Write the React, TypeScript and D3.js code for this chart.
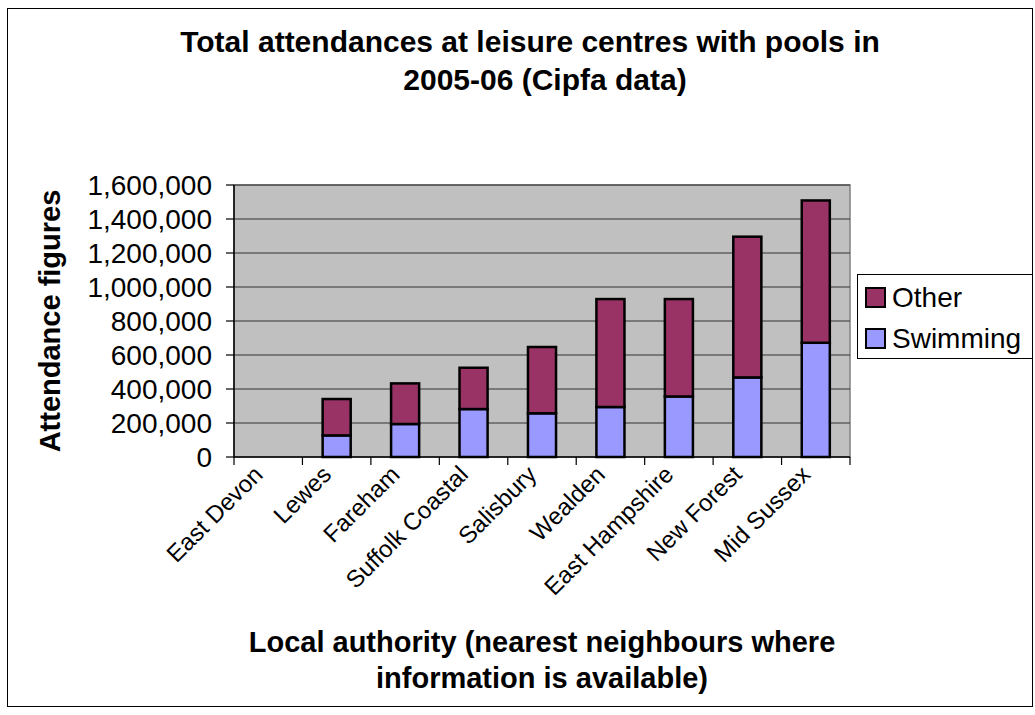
import React from "react";
import * as d3 from "d3";

const categories = ["East Devon", "Lewes", "Fareham", "Suffolk Coastal", "Salisbury", "Wealden", "East Hampshire", "New Forest", "Mid Sussex"];
const swimming = [0, 127000, 194000, 282000, 257000, 294000, 356000, 468000, 672000];
const other = [0, 214000, 239000, 243000, 390000, 635000, 573000, 828000, 837000];
const yTicks = [0, 200000, 400000, 600000, 800000, 1000000, 1200000, 1400000, 1600000];
const seriesNames = ["Other", "Swimming"];
const seriesColors = ["#993366", "#9999FF"];

const W = 1035, H = 715;
const plot = { left: 234, right: 850, top: 185, bottom: 457 };
const FONT = "'Liberation Sans', Arial, sans-serif";

export default function App() {
  const x = d3.scaleBand<string>().domain(categories).range([plot.left, plot.right]).paddingInner(0.59).paddingOuter(0.295);
  const xb = d3.scaleBand<string>().domain(categories).range([plot.left, plot.right]);
  const y = d3.scaleLinear().domain([0, 1600000]).range([plot.bottom, plot.top]);
  const fmt = d3.format(",");
  const rows = categories.map((c, i) => ({ c, swimming: swimming[i], other: other[i] }));
  const stack = d3.stack<any>().keys(["swimming", "other"])(rows);
  const colorFor: Record<string, string> = { swimming: seriesColors[1], other: seriesColors[0] };

  return (
    <svg width={W} height={H} style={{ position: "absolute", left: 0, top: 0, background: "#fff" }} fontFamily={FONT}>
      <rect x={7.5} y={8.5} width={1025} height={698} fill="#fff" stroke="#000" strokeWidth={1} />
      <text textAnchor="middle" fontWeight="bold" fontSize={30}>
        <tspan x={530} y={52}>Total attendances at leisure centres with pools in</tspan>
        <tspan x={545} y={90}>2005-06 (Cipfa data)</tspan>
      </text>
      <rect x={plot.left} y={plot.top} width={plot.right - plot.left} height={plot.bottom - plot.top} fill="#C0C0C0" stroke="#808080" strokeWidth={1.5} />
      {yTicks.slice(1).map((t) => (
        <line key={t} x1={plot.left} x2={plot.right} y1={y(t)} y2={y(t)} stroke="#333" strokeWidth={1.2} />
      ))}
      {stack.map((s) => (
        <g key={s.key} fill={colorFor[s.key]} stroke="#000" strokeWidth={2.5}>
          {s.map((d, i) => (d[1] - d[0] > 0 ? (
            <rect key={i} x={x(categories[i])} width={x.bandwidth()} y={y(d[1])} height={y(d[0]) - y(d[1])} />
          ) : null))}
        </g>
      ))}
      <line x1={plot.left} x2={plot.left} y1={plot.top} y2={plot.bottom} stroke="#000" strokeWidth={1.5} />
      <line x1={plot.left} x2={plot.right} y1={plot.bottom} y2={plot.bottom} stroke="#000" strokeWidth={1.5} />
      {yTicks.map((t) => (
        <g key={t}>
          <line x1={plot.left - 8} x2={plot.left} y1={y(t)} y2={y(t)} stroke="#000" strokeWidth={1.2} />
          <text x={212} y={y(t)} dy="0.36em" textAnchor="end" fontSize={28}>{fmt(t)}</text>
        </g>
      ))}
      {categories.concat(["end"]).map((c, i) => {
        const tx = plot.left + i * xb.step();
        return <line key={i} x1={tx} x2={tx} y1={plot.bottom} y2={plot.bottom + 8} stroke="#000" strokeWidth={1.2} />;
      })}
      {categories.map((c) => {
        const cx = (xb(c) as number) + xb.bandwidth() / 2;
        return (
          <text key={c} transform={`translate(${cx - 4},${476}) rotate(-45)`} textAnchor="end" fontSize={24}>{c}</text>
        );
      })}
      <text transform={`translate(60,${(plot.top + plot.bottom) / 2}) rotate(-90)`} textAnchor="middle" fontWeight="bold" fontSize={29}>Attendance figures</text>
      <text textAnchor="middle" fontWeight="bold" fontSize={29}>
        <tspan x={542} y={652}>Local authority (nearest neighbours where</tspan>
        <tspan x={542} y={688}>information is available)</tspan>
      </text>
      <rect x={857.5} y={274.5} width={200} height={84} fill="#fff" stroke="#000" strokeWidth={1} />
      {seriesNames.map((n, i) => (
        <g key={n}>
          <rect x={866} y={288} width={19} height={19} transform={`translate(0,${i * 41})`} fill={seriesColors[i]} stroke="#000" strokeWidth={2} />
          <text x={892} y={307 + i * 41} fontSize={28}>{n}</text>
        </g>
      ))}
      <rect x={1033} y={0} width={2} height={H} fill="#fff" />
      <line x1={1032.5} x2={1032.5} y1={8} y2={707} stroke="#000" />
    </svg>
  );
}
